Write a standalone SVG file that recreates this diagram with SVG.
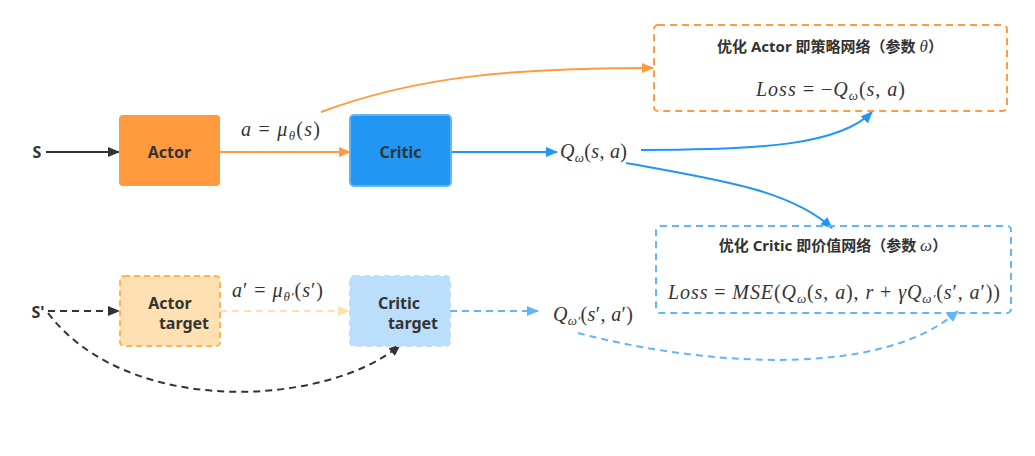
<svg xmlns="http://www.w3.org/2000/svg" width="1035" height="456" viewBox="0 0 1035 456">
<style>
.lbl{font-family:"Noto Sans","Noto Sans CJK SC",sans-serif;font-weight:bold;font-size:16px;fill:#333}
.ttl{font-family:"Noto Sans","Noto Sans CJK SC",sans-serif;font-weight:bold;font-size:15px;fill:#333}
.m{font-family:"Liberation Serif","Times New Roman",serif;font-style:italic;font-size:20px;fill:#333}
.r{font-style:normal}
.sub{font-size:13px}
.c{fill:none;stroke-width:2}
</style>
<defs>
<marker id="aBk" markerWidth="12" markerHeight="10" refX="11" refY="5" orient="auto" markerUnits="userSpaceOnUse"><path d="M0,0 L12,5 L0,10 Z" fill="#333"/></marker>
<marker id="aOr" markerWidth="12" markerHeight="10" refX="11" refY="5" orient="auto" markerUnits="userSpaceOnUse"><path d="M0,0 L12,5 L0,10 Z" fill="#FF9A3E"/></marker>
<marker id="aBl" markerWidth="12" markerHeight="10" refX="11" refY="5" orient="auto" markerUnits="userSpaceOnUse"><path d="M0,0 L12,5 L0,10 Z" fill="#2196F3"/></marker>
<marker id="aLb" markerWidth="12" markerHeight="10" refX="11" refY="5" orient="auto" markerUnits="userSpaceOnUse"><path d="M0,0 L12,5 L0,10 Z" fill="#64B5F6"/></marker>
<marker id="aLo" markerWidth="12" markerHeight="10" refX="11" refY="5" orient="auto" markerUnits="userSpaceOnUse"><path d="M0,0 L12,5 L0,10 Z" fill="#FFE0B2"/></marker>
</defs>
<rect width="1035" height="456" fill="#fff"/>

<g id="connectors">
<path class="c" d="M46,152 L119,152" stroke="#333" marker-end="url(#aBk)"/>
<path class="c" d="M220,152 L350,152" stroke="#FF9A3E" marker-end="url(#aOr)"/>
<path class="c" d="M321,112 C420,75 520,68 653,68" stroke="#FF9A3E" marker-end="url(#aOr)"/>
<path class="c" d="M451,152 L557,152" stroke="#2196F3" marker-end="url(#aBl)"/>
<path class="c" d="M641,150 C760,150 840,145 872,112" stroke="#2196F3" marker-end="url(#aBl)"/>
<path class="c" d="M626,163 C720,180 790,190 832,228" stroke="#2196F3" marker-end="url(#aBl)"/>
<path class="c" d="M48,311 L119,311" stroke="#333" stroke-dasharray="7,5" marker-end="url(#aBk)"/>
<path class="c" d="M220,311 L349,311" stroke="#FFE0B2" stroke-dasharray="7,5" marker-end="url(#aLo)"/>
<path class="c" d="M450,311 L538,311" stroke="#64B5F6" stroke-dasharray="7,5" marker-end="url(#aLb)"/>
<path class="c" d="M578,333 C700,365 880,380 958,311" stroke="#64B5F6" stroke-dasharray="7,5" marker-end="url(#aLb)"/>
<path class="c" d="M48,313 C130,420 330,405 400,345" stroke="#333" stroke-dasharray="7,5" marker-end="url(#aBk)"/>
</g>

<g id="s"><text class="lbl" x="37" y="158" text-anchor="middle">S</text></g>
<g id="s2"><text class="lbl" x="38" y="318" text-anchor="middle">S'</text></g>

<g id="actor">
<rect x="119" y="115" width="101" height="71" rx="4" fill="#FF9A3E"/>
<text class="lbl" x="169.5" y="158" text-anchor="middle">Actor</text>
</g>
<g id="critic">
<rect x="350" y="115" width="101" height="71" rx="4" fill="#2196F3" stroke="#64B5F6" stroke-width="2"/>
<text class="lbl" x="400.5" y="158" text-anchor="middle">Critic</text>
</g>
<g id="actor-target">
<rect x="120" y="276" width="100" height="70" rx="4" fill="#FFE0B2" stroke="#FFB44F" stroke-width="2" stroke-dasharray="6,4"/>
<text class="lbl" x="170" y="309" text-anchor="middle">Actor</text>
<text class="lbl" x="184" y="329" text-anchor="middle">target</text>
</g>
<g id="critic-target">
<rect x="350" y="276" width="100" height="70" rx="4" fill="#BBDEFB" stroke="#BBDEFB" stroke-width="2" stroke-dasharray="6,4"/>
<text class="lbl" x="399" y="309" text-anchor="middle">Critic</text>
<text class="lbl" x="413" y="329" text-anchor="middle">target</text>
</g>

<g id="label-a"><text class="m" x="241" y="136" textLength="79" lengthAdjust="spacing">a <tspan class="r">=</tspan> μ<tspan class="sub" dy="4">θ</tspan><tspan class="r" dy="-4">(</tspan>s<tspan class="r">)</tspan></text></g>
<g id="label-a2"><text class="m" x="232" y="297" textLength="91" lengthAdjust="spacing">a<tspan class="r">′</tspan> <tspan class="r">=</tspan> μ<tspan class="sub" dy="4">θ′</tspan><tspan class="r" dy="-4">(</tspan>s<tspan class="r">′)</tspan></text></g>
<g id="q"><text class="m" x="560" y="158" textLength="67" lengthAdjust="spacing">Q<tspan class="sub" dy="4">ω</tspan><tspan class="r" dy="-4">(</tspan>s<tspan class="r">, </tspan>a<tspan class="r">)</tspan></text></g>
<g id="q2"><text class="m" x="553" y="321" textLength="80" lengthAdjust="spacing">Q<tspan class="sub" dy="4">ω′</tspan><tspan class="r" dy="-4">(</tspan>s<tspan class="r">′, </tspan>a<tspan class="r">′)</tspan></text></g>

<g id="opt-actor">
<rect x="654" y="25" width="353" height="86" rx="4" fill="none" stroke="#FF9A3E" stroke-width="2" stroke-dasharray="7,5"/>
<text class="ttl" x="830" y="52" text-anchor="middle">优化 Actor 即策略网络（参数 <tspan class="m" style="font-weight:normal;font-size:17px">θ</tspan>）</text>
<text class="m" x="756" y="96" textLength="149" lengthAdjust="spacing">Loss <tspan class="r">= −</tspan>Q<tspan class="sub" dy="4">ω</tspan><tspan class="r" dy="-4">(</tspan>s<tspan class="r">, </tspan>a<tspan class="r">)</tspan></text>
</g>
<g id="opt-critic">
<rect x="656" y="226" width="355" height="87" rx="4" fill="none" stroke="#64B5F6" stroke-width="2" stroke-dasharray="7,5"/>
<text class="ttl" x="833" y="251" text-anchor="middle">优化 Critic 即价值网络（参数 <tspan class="m" style="font-weight:normal;font-size:17px">ω</tspan>）</text>
<text class="m" x="668" y="299" textLength="332" lengthAdjust="spacing">Loss <tspan class="r">=</tspan> MSE<tspan class="r">(</tspan>Q<tspan class="sub" dy="4">ω</tspan><tspan class="r" dy="-4">(</tspan>s<tspan class="r">, </tspan>a<tspan class="r">), </tspan>r <tspan class="r">+</tspan> γQ<tspan class="sub" dy="4">ω′</tspan><tspan class="r" dy="-4">(</tspan>s<tspan class="r">′, </tspan>a<tspan class="r">′))</tspan></text>
</g>
</svg>
